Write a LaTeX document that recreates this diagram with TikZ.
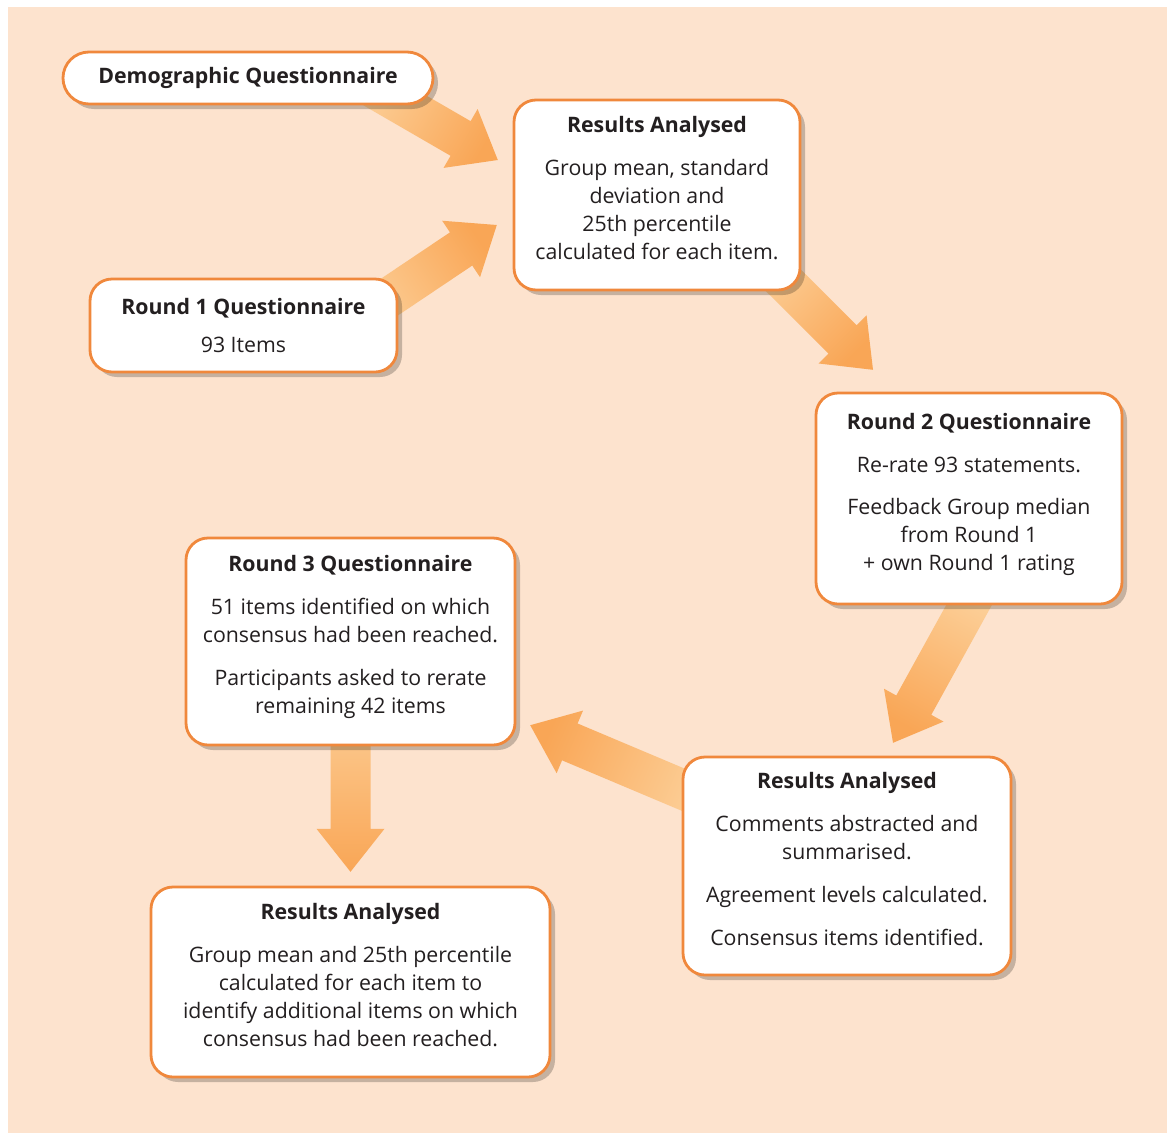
\documentclass[tikz,border=0pt]{standalone}
\usepackage{fontspec}
\setmainfont{Open Sans}
\usetikzlibrary{calc,shadows}

\definecolor{bgpeach}{RGB}{253,227,206}
\definecolor{boxline}{RGB}{240,136,60}
\definecolor{arrlight}{RGB}{252,206,150}
\definecolor{arrdark}{RGB}{249,166,86}
\definecolor{txt}{RGB}{35,31,32}

\tikzset{
  stage/.style={draw=boxline, line width=2.8pt, fill=white, rounded corners=22pt,
    align=center, text=txt, inner sep=0pt, font=\fontsize{21.3}{28}\selectfont,
    drop shadow={shadow xshift=5pt, shadow yshift=-5pt, opacity=.22, fill=black}},
  tall/.style={text depth=14pt},
  flow/.style={left color=arrlight, right color=arrdark}
}

% fat shaded arrow: tail, tip, shading angle
\newcommand{\fatarrow}[3]{%
  \coordinate (ab) at ($(#2)!43pt!(#1)$);
  \shade[flow, shading angle=#3]
    ($(#1)!20pt!90:(#2)$) -- ($(ab)!20pt!90:(#2)$) -- ($(ab)!34pt!90:(#2)$) -- (#2)
    -- ($(ab)!34pt!-90:(#2)$) -- ($(ab)!20pt!-90:(#2)$) -- ($(#1)!20pt!-90:(#2)$) -- cycle;}

\begin{document}
\begin{tikzpicture}[x=1pt, y=-1pt]
  \useasboundingbox (0,0) rectangle (1167,1133);
  \fill[bgpeach] (8,7) rectangle (1167,1133);

  % boxes are placed first (invisible) so the arrows can use their anchors
  \path
    (248,78)     node[minimum width=370pt, minimum height=52pt] (demo) {}
    (657,195)    node[minimum width=286pt, minimum height=190pt] (res1) {}
    (243.5,325.5) node[minimum width=307pt, minimum height=93pt] (round1) {}
    (969,498.5)  node[minimum width=306pt, minimum height=211pt] (round2) {}
    (350.5,641.5) node[minimum width=329pt, minimum height=207pt] (round3) {}
    (847,866)    node[minimum width=328pt, minimum height=218pt] (res2) {}
    (350.5,982)  node[minimum width=399pt, minimum height=190pt] (res3) {};

  \coordinate (t1) at ($(demo.east)+(-65,7)$);
  \coordinate (p1) at ($(res1.west)+(-16,-35)$);
  \coordinate (t2) at ($(round1.east)+(-33,-11.5)$);
  \coordinate (p2) at ($(res1.west)+(-17,30)$);
  \coordinate (t3) at ($(res1.south east)+(-33,-26)$);
  \coordinate (p3) at ($(round2.north)+(-96,-23)$);
  \coordinate (t4) at ($(round2.south)+(6,-10)$);
  \coordinate (p4) at ($(res2.north)+(46,-14)$);
  \coordinate (t5) at ($(res2.north west)+(22,42)$);
  \coordinate (p5) at ($(round3.south east)+(15,-20)$);
  \coordinate (t6) at ($(round3.south)+(0,-45)$);
  \coordinate (p6) at ($(res3.north)+(0,-15)$);

  \fatarrow{t1}{p1}{60}
  \fatarrow{t2}{p2}{124}
  \fatarrow{t3}{p3}{45}
  \fatarrow{t4}{p4}{-29}
  \fatarrow{t5}{p5}{247}
  \fatarrow{t6}{p6}{0}

  \node[stage, minimum width=370pt, minimum height=52pt, rounded corners=26pt] at (demo)
    {\bfseries Demographic Questionnaire};
  \node[stage, tall, minimum width=286pt, minimum height=190pt] at (res1)
    {{\bfseries Results Analysed}\\[15pt]Group mean, standard\\deviation and\\25th percentile\\calculated for each item.};
  \node[stage, minimum width=307pt, minimum height=93pt] at (round1)
    {{\bfseries Round 1 Questionnaire}\\[10pt]93 Items};
  \node[stage, tall, minimum width=306pt, minimum height=211pt] at (round2)
    {{\bfseries Round 2 Questionnaire}\\[15pt]Re-rate 93 statements.\\[14pt]Feedback Group median\\from Round 1\\+ own Round 1 rating};
  \node[stage, tall, minimum width=329pt, minimum height=207pt] at (round3)
    {{\bfseries Round 3 Questionnaire}\\[15pt]51 items identified on which\\consensus had been reached.\\[15pt]Participants asked to rerate\\remaining 42 items};
  \node[stage, tall, minimum width=328pt, minimum height=218pt] at (res2)
    {{\bfseries Results Analysed}\\[15pt]Comments abstracted and\\summarised.\\[15pt]Agreement levels calculated.\\[15pt]Consensus items identified.};
  \node[stage, tall, minimum width=399pt, minimum height=190pt] at (res3)
    {{\bfseries Results Analysed}\\[15pt]Group mean and 25th percentile\\calculated for each item to\\identify additional items on which\\consensus had been reached.};
\end{tikzpicture}
\end{document}
